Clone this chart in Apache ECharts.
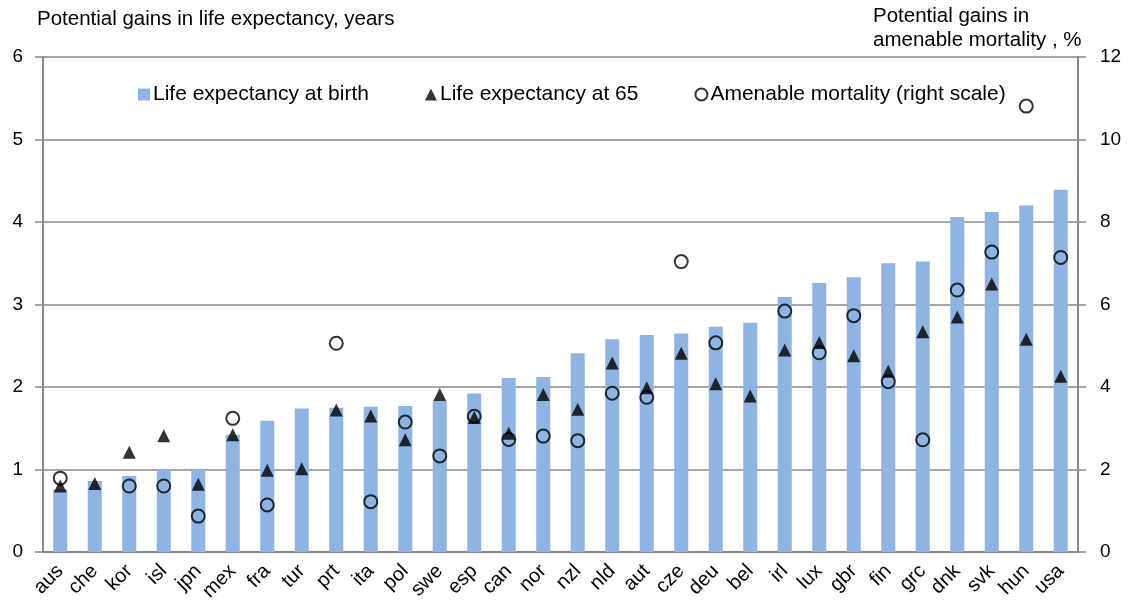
<!DOCTYPE html>
<html>
<head>
<meta charset="utf-8">
<script src="https://cdn.jsdelivr.net/npm/echarts@6/dist/echarts.min.js"></script>
<style>
  html, body { margin: 0; padding: 0; background: #fff; }
  #main { width: 1132px; height: 605px; }
</style>
</head>
<body>
<div id="main"></div>
<script>
var countries = ['aus','che','kor','isl','jpn','mex','fra','tur','prt','ita','pol','swe','esp','can','nor',
                 'nzl','nld','aut','cze','deu','bel','irl','lux','gbr','fin','grc','dnk','svk','hun','usa'];
// potential gains in life expectancy at birth, years (left scale)
var birth = [0.76, 0.86, 0.92, 1.0, 1.0, 1.42, 1.59, 1.74, 1.75, 1.76, 1.77, 1.83, 1.92, 2.11, 2.12,
             2.41, 2.58, 2.63, 2.65, 2.73, 2.78, 3.09, 3.26, 3.33, 3.50, 3.52, 4.06, 4.12, 4.20, 4.39];
// potential gains in life expectancy at 65, years (left scale)
var at65 = [0.80, 0.83, 1.21, 1.41, 0.82, 1.42, 0.99, 1.01, 1.72, 1.65, 1.36, 1.91, 1.63, 1.44, 1.91,
            1.73, 2.29, 1.99, 2.41, 2.04, 1.89, 2.45, 2.54, 2.38, 2.19, 2.67, 2.85, 3.25, 2.58, 2.13];
// potential gains in amenable mortality, % (right scale)
var amenable = [1.79, null, 1.6, 1.6, 0.87, 3.24, 1.14, null, 5.06, 1.22, 3.15, 2.33, 3.29, 2.73, 2.81,
                2.70, 3.85, 3.75, 7.04, 5.07, null, 5.84, 4.83, 5.73, 4.13, 2.72, 6.35, 7.27, 10.81, 7.14];
var leftTicks = [0, 1, 2, 3, 4, 5, 6];
var rightTicks = [0, 2, 4, 6, 8, 10, 12];

var font = 'Liberation Sans, Arial, sans-serif';
var chart = echarts.init(document.getElementById('main'));
chart.setOption({
    animation: false,
    textStyle: { fontFamily: font },
    grid: { left: 43, right: 54, top: 57, bottom: 53 },
    graphic: [
        { type: 'text', left: 37, top: 9,
          style: { text: 'Potential gains in life expectancy, years', font: '20.5px ' + font, fill: '#000' } },
        { type: 'text', left: 873, top: 4,
          style: { text: 'Potential gains in\namenable mortality , %', font: '20.5px ' + font, fill: '#000', lineHeight: 24 } }
    ],
    legend: {
        top: 79, left: 133, itemGap: 56, itemWidth: 12, itemHeight: 12,
        textStyle: { fontSize: 21, color: '#000', fontFamily: font, padding: [0, 0, 0, -2] },
        data: [
            { name: 'Life expectancy at birth', icon: 'rect' },
            { name: 'Life expectancy at 65', icon: 'triangle' },
            { name: 'Amenable mortality (right scale)', icon: 'circle',
              itemStyle: { color: '#fff', borderColor: '#000', borderWidth: 2 } }
        ]
    },
    xAxis: {
        type: 'category',
        data: countries,
        axisLine: { lineStyle: { color: '#898989', width: 2 } },
        axisTick: { length: 6, lineStyle: { color: '#898989', width: 1.5 } },
        axisLabel: { interval: 0, rotate: 45, fontSize: 20, color: '#000', margin: 16, fontFamily: font }
    },
    yAxis: [
        {
            type: 'value', min: leftTicks[0], max: leftTicks[leftTicks.length - 1], interval: 1,
            axisLine: { show: true, lineStyle: { color: '#898989', width: 2 } },
            axisTick: { show: true, length: 8, lineStyle: { color: '#898989', width: 1.5 } },
            axisLabel: { fontSize: 19, color: '#000', margin: 20, fontFamily: font },
            splitLine: { lineStyle: { color: '#a6a6a6', width: 2 } }
        },
        {
            type: 'value', min: rightTicks[0], max: rightTicks[rightTicks.length - 1], interval: 2,
            axisLine: { show: true, lineStyle: { color: '#898989', width: 2 } },
            axisTick: { show: true, length: 8, lineStyle: { color: '#898989', width: 1.5 } },
            axisLabel: { fontSize: 19, color: '#000', margin: 22, fontFamily: font },
            splitLine: { show: false }
        }
    ],
    series: [
        {
            name: 'Life expectancy at birth', type: 'bar', data: birth,
            barWidth: 14, itemStyle: { color: '#8db4e2' }, z: 1
        },
        {
            name: 'Life expectancy at 65', type: 'scatter', data: at65,
            symbol: 'triangle', symbolSize: 13, itemStyle: { color: '#000' }, z: 3
        },
        {
            name: 'Amenable mortality (right scale)', type: 'scatter', yAxisIndex: 1, data: amenable,
            symbol: 'circle', symbolSize: 13,
            itemStyle: { color: 'rgba(0,0,0,0)', borderColor: '#000', borderWidth: 2 }, z: 4
        }
    ]
});
</script>
</body>
</html>
